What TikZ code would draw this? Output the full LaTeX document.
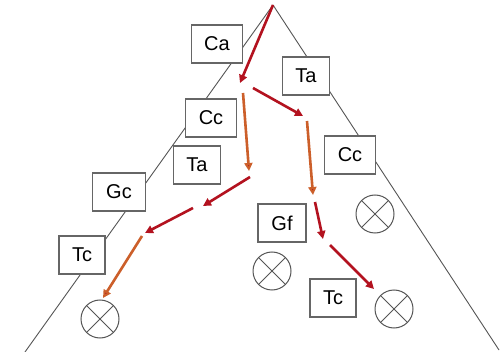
\documentclass[tikz,border=0pt]{standalone}
\usepackage{fontspec}
\setmainfont{Liberation Sans}
\usetikzlibrary{arrows.meta}
\definecolor{treegray}{HTML}{555555}
\definecolor{boxgray}{HTML}{666666}
\definecolor{darkred}{HTML}{B3121F}
\definecolor{orangeline}{HTML}{CC5F2A}
\tikzset{
  lbl/.style={draw=boxgray,line width=1.1pt,fill=white,minimum width=#1,minimum height=38pt,inner sep=0pt,font=\fontsize{20}{24}\selectfont},
  lbl/.default=50pt,
  cross/.style={circle,draw=treegray,line width=1pt,minimum size=38pt,inner sep=0pt,
    path picture={\draw[treegray,line width=1pt] (path picture bounding box.north west) -- (path picture bounding box.south east)
      (path picture bounding box.north east) -- (path picture bounding box.south west);}},
  tree/.style={treegray,line width=0.9pt},
  redarrow/.style={darkred,line width=2.6pt,-{Triangle[length=8pt,width=8pt]}},
  orgarrow/.style={orangeline,line width=2.6pt,-{Triangle[length=8pt,width=8pt,fill=darkred]}},
}
\begin{document}
\begin{tikzpicture}[x=1pt,y=-1pt]
\useasboundingbox (0,0) rectangle (500,352);
\fill[white] (0,0) rectangle (500,352);
% tree
\coordinate (apex) at (273,5);
\coordinate (bl) at (25,352);
\coordinate (br) at (499,350);
\draw[tree] (apex) -- (bl);
\draw[tree] (apex) -- (br);
% boxes
\node[lbl=51pt] (ca) at (217,44) {Ca};
\node[lbl=47pt] (ta1) at (306,76) {Ta};
\node[lbl=51pt] (cc1) at (211,118) {Cc};
\node[lbl=47pt] (ta2) at (197,165) {Ta};
\node[lbl=51pt] (cc2) at (350,155) {Cc};
\node[lbl=53pt] (gc) at (119,192) {Gc};
\node[lbl=46pt] (tc1) at (82,255) {Tc};
\node[lbl=48pt] (gf) at (282,223) {Gf};
\node[lbl=46pt] (tc2) at (333,298) {Tc};
% crosses
\node[cross] (x1) at (100,319) {};
\node[cross] (x2) at (375,214) {};
\node[cross] (x3) at (272,271) {};
\node[cross] (x4) at (394,309) {};
% arrow points
\coordinate (a1) at (240,83);
\coordinate (b0) at (253,88);
\coordinate (b1) at (303,116);
\coordinate (c0) at (243,93);
\coordinate (c1) at (249,171);
\coordinate (d0) at (307,121);
\coordinate (d1) at (313,195);
\coordinate (e0) at (250,177);
\coordinate (e1) at (203,206);
\coordinate (f0) at (193,208);
\coordinate (f1) at (145,233);
\coordinate (g0) at (142,236);
\coordinate (g1) at (103,298);
\coordinate (h0) at (315,202);
\coordinate (h1) at (323,239);
\coordinate (i0) at (330,245);
\coordinate (i1) at (374,289);
\draw[redarrow] (apex) -- (a1);
\draw[redarrow] (b0) -- (b1);
\draw[orgarrow] (c0) -- (c1);
\draw[orgarrow] (d0) -- (d1);
\draw[redarrow] (e0) -- (e1);
\draw[redarrow] (f0) -- (f1);
\draw[orgarrow] (g0) -- (g1);
\draw[redarrow] (h0) -- (h1);
\draw[redarrow] (i0) -- (i1);
\end{tikzpicture}
\end{document}
